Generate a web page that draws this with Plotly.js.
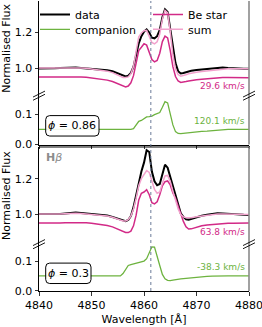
<!DOCTYPE html>
<html>
<head>
<meta charset="utf-8">
<script src="https://cdn.plot.ly/plotly-3.0.1.min.js"></script>
<style>html,body{margin:0;padding:0;background:#fff;}#chart{width:262px;height:327px;}</style>
</head>
<body>
<div id="chart"></div>
<script>
// ---------- data ----------
const wavelength = [4840,4841,4842,4843,4844,4845,4846,4847,4848,4849,4850,4851,4852,4853,4854,
  4854.5,4855,4855.5,4856,4856.5,4857,4857.5,4858,4858.5,4859,4859.5,4860,4860.5,4861,4861.5,4862,4862.5,4863,4863.5,4864,4864.5,4865,4865.5,4866,4866.5,4867,4867.5,4868,4868.5,
  4869,4870,4871,4872,4873,4874,4875,4876,4877,4878,4879,4880];

// phase 0.86
const data1 = [1.000,0.999,1.000,1.001,1.002,1.004,1.006,1.005,1.002,1.000,0.998,0.996,0.994,0.990,0.984,
  0.979,0.972,0.966,0.960,0.956,0.960,0.975,1.010,1.070,1.140,1.180,1.205,1.218,1.200,1.172,1.168,1.180,1.215,1.285,1.330,1.315,1.220,1.110,1.030,0.985,0.972,0.975,0.980,0.984,
  0.987,0.991,0.994,0.997,1.000,1.004,1.006,1.003,1.000,0.999,0.998,0.999];
const bestar1 = [0.952,0.951,0.951,0.952,0.953,0.954,0.955,0.955,0.953,0.951,0.948,0.945,0.941,0.935,0.927,
  0.921,0.913,0.905,0.899,0.897,0.902,0.920,0.960,1.030,1.100,1.118,1.138,1.130,1.090,1.050,1.037,1.045,1.085,1.150,1.180,1.170,1.100,1.010,0.955,0.930,0.922,0.923,0.927,0.930,
  0.933,0.937,0.940,0.943,0.945,0.947,0.949,0.950,0.950,0.949,0.948,0.948];
const companion1 = [0.050,0.050,0.049,0.050,0.050,0.050,0.050,0.050,0.050,0.050,0.050,0.050,0.050,0.050,0.050,
  0.050,0.050,0.050,0.050,0.050,0.050,0.050,0.052,0.065,0.077,0.080,0.087,0.092,0.093,0.095,0.100,0.104,0.107,0.125,0.144,0.140,0.105,0.065,0.042,0.036,0.035,0.036,0.038,0.040,
  0.041,0.042,0.043,0.044,0.046,0.048,0.050,0.050,0.050,0.050,0.050,0.050];
const sum1 = [1.002,1.001,1.000,1.002,1.003,1.004,1.005,1.005,1.003,1.001,0.998,0.995,0.991,0.985,0.977,
  0.971,0.963,0.955,0.950,0.950,0.953,0.970,1.012,1.095,1.177,1.198,1.210,1.212,1.183,1.145,1.137,1.149,1.192,1.275,1.324,1.310,1.205,1.075,0.997,0.966,0.957,0.959,0.965,0.970,
  0.974,0.979,0.983,0.987,0.991,0.995,0.998,0.999,0.999,0.998,0.998,0.998];

// phase 0.3
const data2 = [1.002,1.001,1.000,1.000,1.001,1.004,1.008,1.010,1.007,1.004,1.002,1.000,0.997,0.993,0.985,
  0.980,0.974,0.968,0.963,0.961,0.968,0.990,1.040,1.110,1.190,1.240,1.290,1.360,1.350,1.240,1.185,1.163,1.170,1.230,1.278,1.262,1.210,1.150,1.097,1.045,1.005,0.985,0.972,0.970,
  0.975,0.985,0.992,0.997,1.002,1.006,1.005,1.002,1.000,0.999,0.997,0.996];
const bestar2 = [0.951,0.950,0.950,0.950,0.951,0.952,0.953,0.954,0.953,0.952,0.950,0.947,0.943,0.937,0.929,
  0.923,0.916,0.908,0.902,0.898,0.897,0.905,0.935,0.995,1.080,1.118,1.125,1.138,1.110,1.065,1.058,1.070,1.110,1.160,1.183,1.187,1.165,1.120,1.090,1.045,1.005,0.960,0.930,0.917,
  0.918,0.927,0.935,0.940,0.943,0.946,0.948,0.949,0.949,0.950,0.950,0.951];
const companion2 = [0.050,0.050,0.050,0.050,0.050,0.050,0.050,0.050,0.050,0.050,0.050,0.050,0.050,0.050,0.050,
  0.050,0.050,0.050,0.058,0.072,0.085,0.088,0.090,0.092,0.094,0.098,0.100,0.108,0.130,0.148,0.147,0.120,0.085,0.055,0.040,0.035,0.034,0.036,0.038,0.039,0.040,0.041,0.042,0.043,
  0.044,0.045,0.046,0.048,0.049,0.050,0.050,0.050,0.050,0.050,0.050,0.050];
const sum2 = [1.001,1.000,1.000,1.000,1.001,1.003,1.005,1.006,1.004,1.002,1.000,0.998,0.995,0.990,0.983,
  0.978,0.972,0.966,0.962,0.962,0.970,0.990,1.030,1.090,1.160,1.200,1.225,1.245,1.235,1.190,1.140,1.118,1.125,1.175,1.215,1.218,1.185,1.130,1.075,1.030,0.998,0.985,0.980,0.979,
  0.981,0.986,0.991,0.995,0.999,1.002,1.002,1.001,1.000,0.999,0.998,0.998];

const seriesNames = ['data','companion','Be star','sum'];
const phaseLabels = ['\u03d5 = 0.86','\u03d5 = 0.3'];
const velBe = ['29.6 km/s','63.8 km/s'];
const velComp = ['120.1 km/s','-38.3 km/s'];
const xTicks = [4840,4850,4860,4870,4880];
const upperTicks = [1.0,1.2];
const lowerTicks = [0.0,0.1];
const lineCentre = 4861.3;

// ---------- styling ----------
const C_DATA = '#000000', C_COMP = '#6db33f', C_BE = '#d22a87', C_SUM = '#f2a2cd';
const FONT = 'DejaVu Sans, sans-serif';
const W = 262, H = 327, ML = 39, MR = 13, MT = 0, MB = 36;
const PW = W - ML - MR, PH = H - MT - MB;
const px2x = p => (p - ML) / PW;
const px2y = p => 1 - (p - MT) / PH;

// panel pixel positions
const P1top = 0, P1brk = 95, P1bot = 144;
const P2top = 146.5, P2brk = 244, P2bot = 291;

function tr(y, xa, ya, name, color, width, leg, show) {
  return {x: wavelength, y: y, xaxis: xa, yaxis: ya, name: name, type: 'scatter', mode: 'lines',
    line: {color: color, width: width}, showlegend: !!show, legend: leg, hoverinfo: 'skip'};
}

const traces = [
  tr(data1, 'x2', 'y', seriesNames[0], C_DATA, 2, 'legend', true),
  tr(companion1, 'x2', 'y2', seriesNames[1], C_COMP, 1.3, 'legend2', true),
  tr(bestar1, 'x2', 'y', seriesNames[2], C_BE, 1.5, 'legend3', true),
  tr(sum1, 'x2', 'y', seriesNames[3], C_SUM, 1.5, 'legend4', true),
  tr(data2, 'x', 'y3', seriesNames[0], C_DATA, 2, 'legend', false),
  tr(companion2, 'x', 'y4', seriesNames[1], C_COMP, 1.3, 'legend2', false),
  tr(bestar2, 'x', 'y3', seriesNames[2], C_BE, 1.5, 'legend3', false),
  tr(sum2, 'x', 'y3', seriesNames[3], C_SUM, 1.5, 'legend4', false)
];

const yBase = {showgrid: false, zeroline: false, showline: true, linecolor: '#000', linewidth: 1,
  ticks: 'outside', ticklen: 3.5, tickwidth: 0.8, tickcolor: '#000', tickfont: {size: 11, color: '#000'}};
const fmt = v => v.toFixed(1);

const shapes = [];
// dotted line centre
shapes.push({type: 'line', xref: 'x', yref: 'paper', x0: lineCentre, x1: lineCentre, y0: 0, y1: 1,
  line: {color: '#6b7b98', width: 1, dash: 'dot'}, layer: 'above'});
// right spines
[[P1top, P1bot], [P2top, P2bot]].forEach(([a, b]) => {
  shapes.push({type: 'line', xref: 'paper', yref: 'paper', x0: 1, x1: 1, y0: px2y(b), y1: px2y(a),
    line: {color: '#8a8a8a', width: 1.6}});
});
// top spine of panel 2
shapes.push({type: 'line', xref: 'paper', yref: 'paper', x0: 0, x1: 1, y0: px2y(P2top), y1: px2y(P2top),
  line: {color: '#000', width: 1}});
// break marks
[P1brk, P2brk].forEach(yb => {
  [ML, ML + PW].forEach(xs => {
    [-1.6, 1.6].forEach(off => {
      shapes.push({type: 'line', xref: 'paper', yref: 'paper',
        x0: px2x(xs - 6), y0: px2y(yb + off + 3), x1: px2x(xs + 6), y1: px2y(yb + off - 3),
        line: {color: '#000', width: 0.9}});
    });
  });
});
// rounded boxes for phase labels
function rbox(x0p, y0p, x1p, y1p, r) {
  const X = px2x, Y = px2y;
  const dx = r / PW, dy = r / PH;
  const a = X(x0p), b = X(x1p), t = Y(y0p), u = Y(y1p);
  return `M${a + dx},${t} L${b - dx},${t} Q${b},${t} ${b},${t - dy} L${b},${u + dy} Q${b},${u} ${b - dx},${u} L${a + dx},${u} Q${a},${u} ${a},${u + dy} L${a},${t - dy} Q${a},${t} ${a + dx},${t} Z`;
}
shapes.push({type: 'path', xref: 'paper', yref: 'paper', path: rbox(45.7, 115, 99, 135.5, 4),
  line: {color: '#000', width: 1}, fillcolor: 'rgba(255,255,255,0.9)', layer: 'above'});
shapes.push({type: 'path', xref: 'paper', yref: 'paper', path: rbox(45.7, 263, 91, 283.5, 4),
  line: {color: '#000', width: 1}, fillcolor: 'rgba(255,255,255,0.9)', layer: 'above'});

const annotations = [
  {xref: 'paper', yref: 'paper', x: px2x(246.7), y: px2y(85), xanchor: 'right', yanchor: 'middle', showarrow: false,
    text: velBe[0], font: {size: 9, color: C_BE}},
  {xref: 'paper', yref: 'paper', x: px2x(246.7), y: px2y(120), xanchor: 'right', yanchor: 'middle', showarrow: false,
    text: velComp[0], font: {size: 9, color: C_COMP}},
  {xref: 'paper', yref: 'paper', x: px2x(246.7), y: px2y(231.7), xanchor: 'right', yanchor: 'middle', showarrow: false,
    text: velBe[1], font: {size: 9, color: C_BE}},
  {xref: 'paper', yref: 'paper', x: px2x(246.7), y: px2y(266.7), xanchor: 'right', yanchor: 'middle', showarrow: false,
    text: velComp[1], font: {size: 9, color: C_COMP}},
  {xref: 'paper', yref: 'paper', x: px2x(72.3), y: px2y(125.3), xanchor: 'center', yanchor: 'middle', showarrow: false,
    text: '<i>\u03d5</i> = 0.86', font: {size: 11, color: '#000'}},
  {xref: 'paper', yref: 'paper', x: px2x(68.3), y: px2y(273.3), xanchor: 'center', yanchor: 'middle', showarrow: false,
    text: '<i>\u03d5</i> = 0.3', font: {size: 11, color: '#000'}},
  {xref: 'paper', yref: 'paper', x: px2x(44), y: px2y(157.5), xanchor: 'left', yanchor: 'middle', showarrow: false,
    text: '<b>H</b><i>\u03b2</i>', font: {size: 11, color: '#8c8c8c'}}
];

function leg(xp, yp) {
  return {x: px2x(xp), y: px2y(yp), xanchor: 'left', yanchor: 'middle', bgcolor: 'rgba(0,0,0,0)',
    borderwidth: 0, font: {size: 11, color: '#000'}, itemwidth: 30, tracegroupgap: 0};
}

const layout = {
  width: W, height: H, margin: {l: ML, r: MR, t: MT, b: MB, pad: 0},
  paper_bgcolor: '#fff', plot_bgcolor: 'rgba(0,0,0,0)',
  font: {family: FONT, size: 11, color: '#000'},
  xaxis: {domain: [0, 1], anchor: 'y4', range: [4840, 4880], tickvals: xTicks, ticktext: xTicks.map(String),
    ticklabeloverflow: 'allow',
    showgrid: false, zeroline: false, showline: true, linecolor: '#000', linewidth: 1,
    ticks: 'outside', ticklen: 3.5, tickwidth: 0.8, tickcolor: '#000', tickfont: {size: 11},
    title: {text: 'Wavelength [Å]', font: {size: 11}, standoff: 4}},
  xaxis2: {domain: [0, 1], anchor: 'y2', matches: 'x', range: [4840, 4880], tickvals: xTicks, showticklabels: false,
    showgrid: false, zeroline: false, showline: true, linecolor: '#000', linewidth: 1,
    ticks: 'outside', ticklen: 3.5, tickwidth: 0.8, tickcolor: '#000'},
  yaxis: Object.assign({}, yBase, {domain: [px2y(P1brk), px2y(P1top)], anchor: 'x2', range: [0.8483, 1.3761],
    tickvals: upperTicks, ticktext: upperTicks.map(fmt), title: {text: 'Normalised Flux', font: {size: 11}, standoff: 3}}),
  yaxis2: Object.assign({}, yBase, {domain: [px2y(P1bot), px2y(P1brk)], anchor: 'x2', range: [-0.0017, 0.1644],
    tickvals: lowerTicks, ticktext: lowerTicks.map(fmt)}),
  yaxis3: Object.assign({}, yBase, {domain: [px2y(P2brk), px2y(P2top)], anchor: 'x', range: [0.832, 1.378],
    tickvals: upperTicks, ticktext: upperTicks.map(fmt), title: {text: 'Normalised Flux', font: {size: 11}, standoff: 3}}),
  yaxis4: Object.assign({}, yBase, {domain: [0, px2y(P2brk)], anchor: 'x', range: [-0.001, 0.157],
    tickvals: lowerTicks, ticktext: lowerTicks.map(fmt)}),
  legend: leg(35, 14),
  legend2: leg(35, 29.3),
  legend3: leg(148, 14),
  legend4: leg(148, 29.3),
  shapes: shapes,
  annotations: annotations
};

Plotly.newPlot('chart', traces, layout, {staticPlot: true, displayModeBar: false});
</script>
</body>
</html>
